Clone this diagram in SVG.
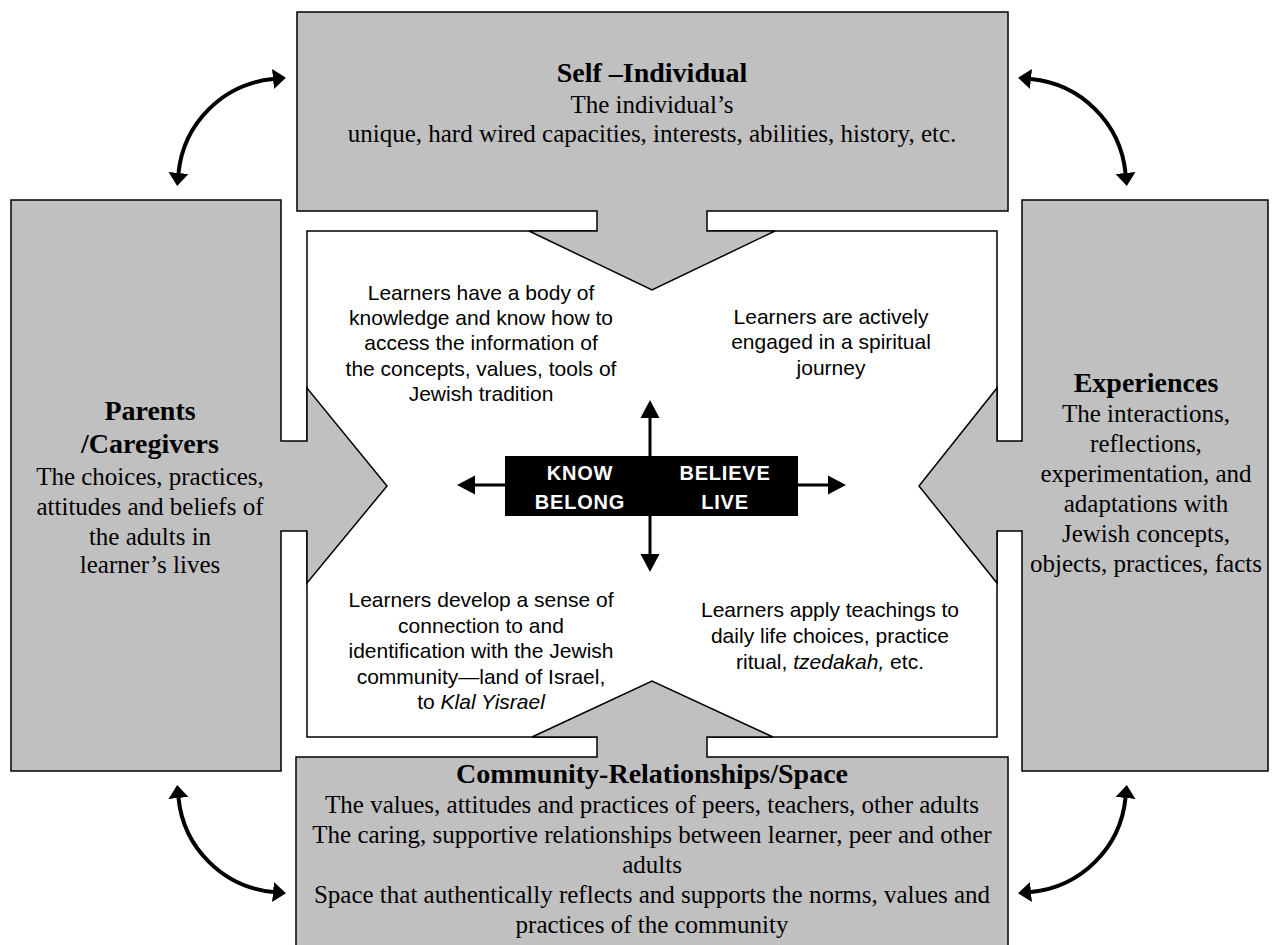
<svg xmlns="http://www.w3.org/2000/svg" width="1278" height="945" viewBox="0 0 1278 945">
<style>
.shape{fill:#c0c0c0;stroke:#000;stroke-width:1.5;stroke-linejoin:miter}
.tb{font-family:"Liberation Serif","Times New Roman",serif;font-weight:bold;font-size:28px;fill:#000;text-anchor:middle}
.tr{font-family:"Liberation Serif","Times New Roman",serif;font-size:25px;fill:#000;text-anchor:middle}
.ta{font-family:"Liberation Sans",Arial,sans-serif;font-size:21px;fill:#000;text-anchor:middle}
.tw{font-family:"Liberation Sans",Arial,sans-serif;font-weight:bold;font-size:20px;fill:#fff;text-anchor:middle;letter-spacing:0.8px}
.curve{fill:none;stroke:#000;stroke-width:4;marker-start:url(#headC);marker-end:url(#headC)}
.axis{fill:none;stroke:#000;stroke-width:3;marker-start:url(#headA);marker-end:url(#headA)}
</style>
<defs>
<marker id="headC" markerUnits="userSpaceOnUse" markerWidth="14" markerHeight="22" viewBox="0 0 14 22" refX="0" refY="11" orient="auto-start-reverse">
<path d="M0,1 L13,11 L0,21 z" fill="#000"/>
</marker>
<marker id="headA" markerUnits="userSpaceOnUse" markerWidth="19" markerHeight="20" viewBox="0 0 19 20" refX="0" refY="10" orient="auto-start-reverse">
<path d="M0,0.5 L18,10 L0,19.5 z" fill="#000"/>
</marker>
</defs>
<rect width="1278" height="945" fill="#fff"/>

<g id="center-area">
<rect x="307" y="231" width="690" height="506" fill="#fff" stroke="#000" stroke-width="1.5"/>
<text class="ta" x="481" y="300">Learners have a body of</text>
<text class="ta" x="481" y="325">knowledge and know how to</text>
<text class="ta" x="481" y="350">access the information of</text>
<text class="ta" x="481" y="376">the concepts, values, tools of</text>
<text class="ta" x="481" y="401">Jewish tradition</text>
<text class="ta" x="831" y="324">Learners are actively</text>
<text class="ta" x="831" y="349">engaged in a spiritual</text>
<text class="ta" x="831" y="375">journey</text>
<text class="ta" x="481" y="607">Learners develop a sense of</text>
<text class="ta" x="481" y="633">connection to and</text>
<text class="ta" x="481" y="658">identification with the Jewish</text>
<text class="ta" x="481" y="684">community—land of Israel,</text>
<text class="ta" x="481" y="709">to <tspan font-style="italic">Klal Yisrael</tspan></text>
<text class="ta" x="830" y="617">Learners apply teachings to</text>
<text class="ta" x="830" y="643">daily life choices, practice</text>
<text class="ta" x="830" y="669">ritual, <tspan font-style="italic">tzedakah,</tspan> etc.</text>
</g>

<g id="self">
<polygon class="shape" points="297,12 1008,12 1008,211 707,211 707,231 775,231 652,290 529,231 597,231 597,211 297,211"/>
<text class="tb" x="652" y="82">Self –Individual</text>
<text class="tr" x="652" y="113">The individual’s</text>
<text class="tr" x="652" y="142">unique, hard wired capacities, interests, abilities, history, etc.</text>
</g>

<g id="parents">
<polygon class="shape" points="11,200 281,200 281,441 307,441 307,388 387,486 307,583 307,531 281,531 281,771 11,771"/>
<text class="tb" x="150" y="420">Parents</text>
<text class="tb" x="150" y="453">/Caregivers</text>
<text class="tr" x="150" y="485">The choices, practices,</text>
<text class="tr" x="150" y="515">attitudes and beliefs of</text>
<text class="tr" x="150" y="545">the adults in</text>
<text class="tr" x="150" y="573">learner’s lives</text>
</g>

<g id="experiences">
<polygon class="shape" points="1268,200 1022,200 1022,441 997,441 997,388 919,486 997,583 997,531 1022,531 1022,771 1268,771"/>
<text class="tb" x="1146" y="392">Experiences</text>
<text class="tr" x="1146" y="422">The interactions,</text>
<text class="tr" x="1146" y="452">reflections,</text>
<text class="tr" x="1146" y="482">experimentation, and</text>
<text class="tr" x="1146" y="512">adaptations with</text>
<text class="tr" x="1146" y="542">Jewish concepts,</text>
<text class="tr" x="1146" y="572">objects, practices, facts</text>
</g>

<g id="community">
<polygon class="shape" points="296,960 296,757 597,757 597,737 532,737 652,681 773,737 707,737 707,757 1008,757 1008,960"/>
<text class="tb" x="652" y="783">Community-Relationships/Space</text>
<text class="tr" x="652" y="813">The values, attitudes and practices of peers, teachers, other adults</text>
<text class="tr" x="652" y="843">The caring, supportive relationships between learner, peer and other</text>
<text class="tr" x="652" y="873">adults</text>
<text class="tr" x="652" y="903">Space that authentically reflects and supports the norms, values and</text>
<text class="tr" x="652" y="933">practices of the community</text>
</g>

<g id="connectors">
<path class="curve" d="M178.5,173 A105,105 0 0 1 273,79"/>
<path class="curve" d="M1125.5,173 A105,105 0 0 0 1031,79"/>
<path class="curve" d="M178.5,798 A105,105 0 0 0 273,892"/>
<path class="curve" d="M1125.5,798 A105,105 0 0 1 1031,892"/>
<path class="axis" d="M475,485 L828,485"/>
<path class="axis" d="M650,418 L650,554"/>
</g>

<g id="core">
<rect x="505" y="456" width="293" height="60" fill="#000"/>
<text class="tw" x="580" y="480">KNOW</text>
<text class="tw" x="580" y="509">BELONG</text>
<text class="tw" x="725" y="480">BELIEVE</text>
<text class="tw" x="725" y="509">LIVE</text>
</g>
</svg>
